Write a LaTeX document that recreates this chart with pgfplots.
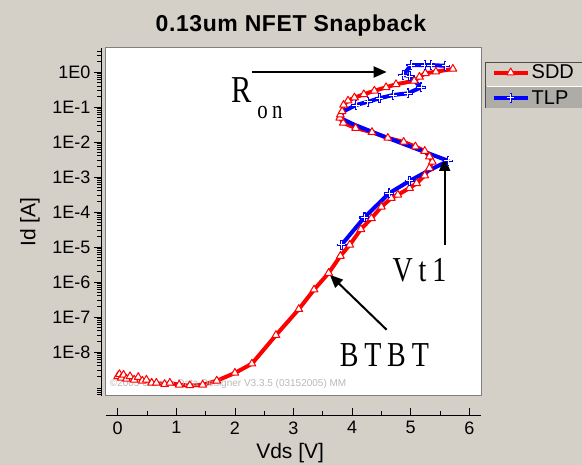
\documentclass[border=0pt]{standalone}
\usepackage{fontspec}
\setmainfont{Liberation Sans}
\newfontfamily\annfont[FakeStretch=0.8]{Liberation Serif}
\newfontfamily\titlefont[LetterSpace=2.5]{Liberation Sans}
\usepackage{pgfplots}
\pgfplotsset{compat=1.18}
\usetikzlibrary{arrows.meta}
\definecolor{winbg}{RGB}{212,208,200}
\definecolor{sddred}{RGB}{255,0,0}
\definecolor{tlpblue}{RGB}{0,0,255}
\pgfdeclareplotmark{wplus}{%
  \pgfsetlinewidth{2.4pt}%
  \pgfsetstrokecolor{tlpblue}%
  \pgfpathmoveto{\pgfqpoint{-\pgfplotmarksize}{0pt}}%
  \pgfpathlineto{\pgfqpoint{\pgfplotmarksize}{0pt}}%
  \pgfpathmoveto{\pgfqpoint{0pt}{-\pgfplotmarksize}}%
  \pgfpathlineto{\pgfqpoint{0pt}{\pgfplotmarksize}}%
  \pgfusepathqstroke
  \pgfsetlinewidth{0.9pt}%
  \pgfsetstrokecolor{white}%
  \pgfpathmoveto{\pgfqpoint{-0.75\pgfplotmarksize}{0pt}}%
  \pgfpathlineto{\pgfqpoint{0.75\pgfplotmarksize}{0pt}}%
  \pgfpathmoveto{\pgfqpoint{0pt}{-0.75\pgfplotmarksize}}%
  \pgfpathlineto{\pgfqpoint{0pt}{0.75\pgfplotmarksize}}%
  \pgfusepathqstroke
}
\begin{document}
\begin{tikzpicture}
\useasboundingbox (0,0) rectangle (582pt,465pt);
\fill[winbg] (0,0) rectangle (582pt,465pt);
% legend row backgrounds
\fill[gray!45!winbg] (485pt,357pt) rectangle (582pt,379pt);
\draw[gray!60!black,line width=1pt] (485.5pt,357pt) -- (485.5pt,402pt) -- (582pt,402pt);
\draw[white,line width=0.8pt] (486.5pt,379pt) -- (582pt,379pt);
\node[font=\titlefont\bfseries\fontsize{23}{26}\selectfont] at (291pt,439pt) {0.13um NFET Snapback};
\begin{axis}[
  at={(106pt,69pt)}, anchor=south west,
  width=375pt, height=348pt, scale only axis,
  xmin=-0.2, xmax=6.2,
  ymode=log, ymin=5.5e-10, ymax=4.85,
  axis background/.style={fill=white},
  axis x line=bottom, axis y line=left,
  axis line style={-, black, line width=0.8pt},
  axis x line shift=19pt,
  axis y line shift=5pt,
  xtick={0,1,2,3,4,5,6},
  xticklabels={0,1,2,3,4,5,6},
  minor x tick num=1,
  xtick align=inside,
  x tick label style={yshift=-3pt},
  ytick={1e-8,1e-7,1e-6,1e-5,1e-4,1e-3,1e-2,1e-1,1},
  yticklabels={1E-8,1E-7,1E-6,1E-5,1E-4,1E-3,1E-2,1E-1,1E0},
  minor ytick={6e-10,7e-10,8e-10,9e-10,
    2e-9,3e-9,4e-9,5e-9,6e-9,7e-9,8e-9,9e-9,
    2e-8,3e-8,4e-8,5e-8,6e-8,7e-8,8e-8,9e-8,
    2e-7,3e-7,4e-7,5e-7,6e-7,7e-7,8e-7,9e-7,
    2e-6,3e-6,4e-6,5e-6,6e-6,7e-6,8e-6,9e-6,
    2e-5,3e-5,4e-5,5e-5,6e-5,7e-5,8e-5,9e-5,
    2e-4,3e-4,4e-4,5e-4,6e-4,7e-4,8e-4,9e-4,
    2e-3,3e-3,4e-3,5e-3,6e-3,7e-3,8e-3,9e-3,
    2e-2,3e-2,4e-2,5e-2,6e-2,7e-2,8e-2,9e-2,
    2e-1,3e-1,4e-1,5e-1,6e-1,7e-1,8e-1,9e-1,
    2,3,4},
  ytick align=outside,
  x tick style={black, line width=0.8pt},
  y tick style={black, line width=0.8pt},
  major tick length=7pt, minor tick length=4pt,
  tick label style={font=\fontsize{18}{20}\selectfont},
  xlabel={Vds [V]}, ylabel={Id [A]},
  label style={font=\fontsize{21}{24}\selectfont},
  xlabel style={at={(axis description cs:0.491,-0.163)}, anchor=center},
  ylabel style={at={(axis description cs:-0.203,0.5)}, anchor=center, rotate=0},
  legend style={at={(axis description cs:1.028,0.958)}, anchor=north west,
    draw=none, fill=none, font=\fontsize{20}{22}\selectfont,
    inner sep=0pt, row sep=6pt, nodes={inner sep=2pt}},
  legend cell align=left,
  legend image code/.code={\draw[#1,mark=none] (0pt,0pt) -- (34pt,0pt); \draw[#1,only marks] plot coordinates {(17pt,0pt)};},
  clip=false,
]
\addplot[sddred, line width=4pt, line join=round, mark=triangle*, mark size=4.5pt,
  mark options={solid, fill=white, draw=sddred, line width=1pt}]
coordinates {
(0.00,2.0e-9) (0.03,2.3e-9) (0.06,1.8e-9) (0.10,2.2e-9) (0.15,1.7e-9)
(0.21,2.0e-9) (0.28,1.6e-9) (0.35,1.9e-9) (0.42,1.5e-9) (0.49,1.6e-9)
(0.58,1.3e-9) (0.66,1.3e-9) (0.80,1.2e-9) (0.89,1.3e-9) (1.05,1.15e-9)
(1.23,1.1e-9) (1.45,1.15e-9) (1.69,1.5e-9) (2.0,2.5e-9) (2.29,4.6e-9)
(2.7,3.0e-8) (3.09,1.66e-7) (3.35,6e-7) (3.6,1.8e-6) (3.8,5.5e-6)
(3.96,1.15e-5) (4.15,3.2e-5) (4.33,6.6e-5) (4.50,1.4e-4) (4.67,2.5e-4)
(4.78,3.1e-4) (4.98,4.8e-4) (5.10,6.6e-4) (5.24,1.1e-3) (5.32,1.8e-3)
(5.37,2.7e-3) (5.32,3.8e-3) (5.24,5.5e-3) (5.08,7.4e-3) (4.88,1.0e-2)
(4.61,1.3e-2) (4.34,1.9e-2) (4.06,2.5e-2) (3.85,3.5e-2) (3.79,4.9e-2)
(3.80,6e-2) (3.83,7.5e-2) (3.855,0.114) (3.93,0.151) (4.04,0.185)
(4.20,0.23) (4.38,0.29) (4.58,0.365) (4.75,0.445) (5.06,0.56)
(5.15,0.72) (5.25,0.92) (5.43,1.02) (5.72,1.22)
};
\addlegendentry{SDD}
\addplot[tlpblue, line width=4pt, line join=round, mark=wplus, mark size=5pt,
  mark indices={1,2,3,4,6,12,13,14,15,16,17,18,19,20,21,22,23}]
coordinates {
(3.82,1.15e-5) (4.21,7.0e-5) (4.63,3.4e-4) (4.98,7.7e-4) (5.30,1.5e-3)
(5.64,2.9e-3) (5.15,5.9e-3) (4.47,1.6e-2) (4.04,3.1e-2) (3.79,4.9e-2)
(3.85,7.5e-2) (4.07,0.114) (4.27,0.141) (4.47,0.178) (4.70,0.22)
(4.95,0.245) (5.18,0.365) (4.98,0.77) (4.87,0.82) (5.01,1.58)
(5.24,1.58) (5.35,1.58) (5.59,1.5)
};
\addlegendentry{TLP}
% annotations
\draw[line width=2pt, -{Triangle[length=13pt,width=11pt]}] (axis cs:2.30,1) -- (axis cs:4.59,1);
\node[font=\annfont\fontsize{38}{40}\selectfont] at (axis cs:2.12,0.3) {R};
\node[font=\annfont\fontsize{26}{28}\selectfont] at (axis cs:2.6,0.068) {o\,n};
\draw[line width=2pt, -{Triangle[length=13pt,width=11pt]}] (axis cs:5.58,1.15e-5) -- (axis cs:5.58,3.5e-3);
\node[font=\annfont\fontsize{35}{38}\selectfont] at (axis cs:5.15,2.2e-6) {V\,t\,1};
\draw[line width=2pt, -{Triangle[length=13pt,width=11pt]}] (axis cs:4.59,4.3e-8) -- (axis cs:3.62,1.6e-6);
\node[font=\annfont\fontsize{35}{38}\selectfont] at (axis cs:4.55,8.1e-9) {B\,T\,B\,T};
\node[anchor=west, text=gray!55, font=\fontsize{10}{12}\selectfont, inner sep=0pt] at (rel axis cs:0.01,0.035) {©2005 Silvaco Data Designer V3.3.5 (03152005) MM};
\draw[gray, line width=1pt] (rel axis cs:0,0) rectangle (rel axis cs:1,1);
\end{axis}
\end{tikzpicture}
\end{document}
